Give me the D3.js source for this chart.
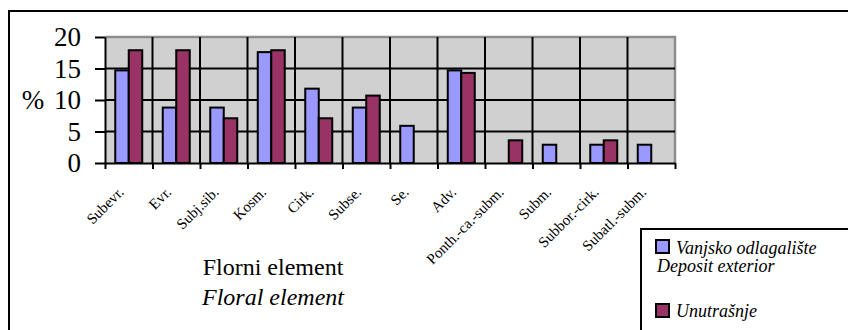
<!DOCTYPE html>
<html>
<head>
<meta charset="utf-8">
<script src="https://cdn.jsdelivr.net/npm/d3@7"></script>
<style>
  html, body { margin: 0; padding: 0; background: #fff; }
  svg { display: block; font-family: "Liberation Serif", "Times New Roman", "DejaVu Serif", serif; }
</style>
</head>
<body>
<svg id="chart" width="848" height="330"></svg>
<script>
// Floristic elements (% of species) at the two sites
const categories = ["Subevr.", "Evr.", "Subj.sib.", "Kosm.", "Cirk.", "Subse.", "Se.", "Adv.",
  "Ponth.-ca.-subm.", "Subm.", "Subbor.-cirk.", "Subatl.-subm."];
const exterior = [14.7, 8.8, 8.8, 17.6, 11.8, 8.8, 5.9, 14.7, 0, 2.9, 2.9, 2.9];
const interior = [17.9, 17.9, 7.1, 17.9, 7.1, 10.7, 0, 14.3, 3.6, 0, 3.6, 0];
const seriesNames = ["Vanjsko odlagalište", "Unutrašnje"];
const seriesColors = ["#9999ff", "#993366"];
const yTicks = [0, 5, 10, 15, 20];

const serif = '"Liberation Serif", "Times New Roman", "DejaVu Serif", serif';
const svg = d3.select("#chart");

// outer frame
svg.append("rect").attr("x", 9).attr("y", 11).attr("width", 900).attr("height", 400)
  .attr("fill", "#fff").attr("stroke", "#000").attr("stroke-width", 2);

const L = 105, R = 675, T = 37, B = 163;

const x = d3.scaleBand().domain(categories).range([L, R]).paddingInner(0).paddingOuter(0);
const xSub = d3.scaleBand().domain([0, 1]).range([0, x.bandwidth()]).paddingInner(0).paddingOuter(0.76);
const y = d3.scaleLinear().domain([0, 20]).range([B, T]);
const xEdge = d3.scaleLinear().domain([0, categories.length]).range([L, R]);

// plot area
svg.append("rect").attr("x", L).attr("y", T).attr("width", R - L).attr("height", B - T)
  .attr("fill", "#d0d0d0");
svg.append("path").attr("d", `M${L},${T}H${R}V${B}`)
  .attr("fill", "none").attr("stroke", "#8c8c8c").attr("stroke-width", 2.5);

// grid
const grid = svg.append("g").attr("stroke", "#000").attr("stroke-width", 2);
grid.selectAll("line.h").data(yTicks.filter(v => v > 0 && v < 20)).join("line")
  .attr("x1", L).attr("x2", R).attr("y1", d => y(d)).attr("y2", d => y(d));
grid.selectAll("line.v").data(d3.range(1, categories.length)).join("line")
  .attr("x1", d => xEdge(d)).attr("x2", d => xEdge(d)).attr("y1", T).attr("y2", B);

// bars
const data = categories.map((c, i) => ({ c, vals: [exterior[i], interior[i]] }));
const groups = svg.append("g").selectAll("g").data(data).join("g")
  .attr("transform", d => `translate(${x(d.c)},0)`);
groups.selectAll("rect").data(d => d.vals.map((v, k) => ({ v, k })).filter(e => e.v > 0)).join("rect")
  .attr("x", e => xSub(e.k)).attr("width", xSub.bandwidth())
  .attr("y", e => y(e.v)).attr("height", e => B - y(e.v))
  .attr("fill", e => seriesColors[e.k]).attr("stroke", "#000").attr("stroke-width", 2);

// y axis
const yAxis = svg.append("g").attr("transform", `translate(${L},0)`)
  .call(d3.axisLeft(y).tickValues(yTicks).tickSize(10).tickSizeOuter(0).tickPadding(14));
yAxis.select(".domain").attr("stroke-width", 2);
yAxis.selectAll(".tick line").attr("stroke-width", 2);
yAxis.selectAll(".tick text").attr("font-size", 27).attr("font-family", serif).attr("fill", "#000");

svg.append("text").attr("x", 33).attr("y", y(10)).attr("dy", "0.35em")
  .attr("text-anchor", "middle").attr("font-size", 27).text("%");

// x axis with ticks at category boundaries
const xAxis = svg.append("g").attr("transform", `translate(0,${B})`)
  .call(d3.axisBottom(xEdge).ticks(categories.length).tickSize(6).tickSizeOuter(0).tickFormat(""));
xAxis.select(".domain").attr("stroke-width", 2);
xAxis.selectAll(".tick line").attr("stroke-width", 2);

// category labels
svg.append("g").selectAll("text").data(categories).join("text")
  .attr("transform", d => `translate(${x(d) + x.bandwidth() / 2 - 4},193) rotate(-45)`)
  .attr("text-anchor", "end").attr("font-size", 15).text(d => d);

// axis title
svg.append("text").attr("x", 273).attr("y", 275).attr("text-anchor", "middle")
  .attr("font-size", 24).text("Florni element");
svg.append("text").attr("x", 273).attr("y", 305).attr("text-anchor", "middle")
  .attr("font-size", 24).attr("font-style", "italic").text("Floral element");

// legend
const lg = svg.append("g");
lg.append("rect").attr("x", 641).attr("y", 229).attr("width", 300).attr("height", 200)
  .attr("fill", "#fff").attr("stroke", "#000").attr("stroke-width", 2);
const swY = [240, 304];
seriesNames.forEach((n, k) => {
  lg.append("rect").attr("x", 656).attr("y", swY[k]).attr("width", 13).attr("height", 13)
    .attr("fill", seriesColors[k]).attr("stroke", "#000").attr("stroke-width", 2);
});
lg.append("text").attr("x", 676).attr("y", 254).attr("font-size", 18).attr("font-style", "italic").text(seriesNames[0]);
lg.append("text").attr("x", 657).attr("y", 272).attr("font-size", 18).attr("font-style", "italic").text("Deposit exterior");
lg.append("text").attr("x", 676).attr("y", 317).attr("font-size", 18).attr("font-style", "italic").text(seriesNames[1]);
</script>
</body>
</html>
